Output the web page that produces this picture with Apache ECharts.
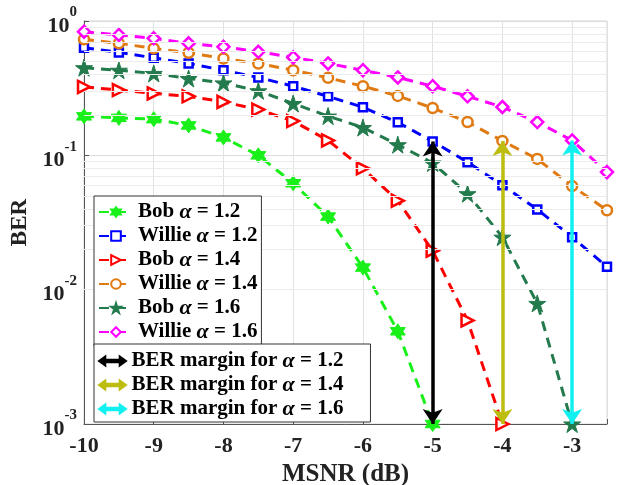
<!DOCTYPE html>
<html>
<head>
<meta charset="utf-8">
<script src="https://cdn.jsdelivr.net/npm/echarts@6/dist/echarts.min.js"></script>
<style>
  html, body { margin: 0; padding: 0; background: #fff; }
  #main { width: 618px; height: 485px; }
</style>
</head>
<body>
<div id="main"></div>
<script>
var chart = echarts.init(document.getElementById('main'));

// MSNR (dB) sample points
var msnr = [-10, -9.5, -9, -8.5, -8, -7.5, -7, -6.5, -6, -5.5, -5, -4.5, -4, -3.5, -3, -2.5];

var bob12    = [0.195, 0.19, 0.186, 0.167, 0.136, 0.1, 0.062, 0.035, 0.0146, 0.0049, 0.001];
var willie12 = [0.632, 0.584, 0.532, 0.483, 0.43, 0.38, 0.327, 0.275, 0.228, 0.176, 0.127, 0.089, 0.06, 0.0396, 0.0246, 0.0148];
var bob14    = [0.323, 0.306, 0.289, 0.275, 0.25, 0.219, 0.18, 0.129, 0.08, 0.046, 0.0195, 0.0059, 0.001];
var willie14 = [0.73, 0.682, 0.625, 0.58, 0.526, 0.483, 0.43, 0.378, 0.327, 0.277, 0.225, 0.177, 0.128, 0.094, 0.059, 0.039];
var bob16    = [0.449, 0.43, 0.407, 0.373, 0.346, 0.302, 0.243, 0.196, 0.161, 0.12, 0.0877, 0.0518, 0.0246, 0.0079, 0.001];
var willie16 = [0.832, 0.787, 0.743, 0.682, 0.643, 0.59, 0.536, 0.483, 0.43, 0.38, 0.327, 0.275, 0.229, 0.177, 0.129, 0.075];

// BER margin arrows: x position and top taken from the Willie curve
var marginX = [-5, -4, -3];
var marginTop = [willie12[10], willie14[12], willie16[14]];
var berFloor = 0.001;

// minor grid lines of the log axis
var minorGrid = [];
[0.001, 0.01, 0.1].forEach(function (d) {
  for (var k = 2; k <= 9; k++) minorGrid.push(+(k * d).toPrecision(3));
});

var FONT = 'Liberation Serif';
var hexagram = 'path://M10 0 L12.89 5 L18.66 5 L15.77 10 L18.66 15 L12.89 15 L10 20 L7.11 15 L1.34 15 L4.23 10 L1.34 5 L7.11 5 Z';
var pentagram = 'path://M10 0 L12.25 6.91 L19.51 6.91 L13.63 11.18 L15.88 18.09 L10 13.82 L4.12 18.09 L6.37 11.18 L0.49 6.91 L7.75 6.91 Z';
var triRight = 'path://M0 0 L20 10 L0 20 Z';
var dblArrow = 'path://M0 5 L7 0 L7 3.5 L23 3.5 L23 0 L30 5 L23 10 L23 6.5 L7 6.5 L7 10 Z';

function pairs(ys) {
  return ys.map(function (y, i) { return [msnr[i], y]; });
}

function curve(name, ys, color, symbol, size, hollow) {
  return {
    name: name,
    type: 'line',
    data: pairs(ys),
    symbol: symbol,
    symbolSize: size,
    showAllSymbol: true,
    z: 3,
    lineStyle: { color: color, width: 3, type: [10, 7] },
    itemStyle: hollow ? { color: '#fff', borderColor: color, borderWidth: 2.5 } : { color: color, borderColor: color, borderWidth: 1 }
  };
}

function margin(name, idx, color) {
  return {
    name: name,
    type: 'lines',
    coordinateSystem: 'cartesian2d',
    z: 5,
    symbol: ['arrow', 'arrow'],
    symbolSize: 15,
    lineStyle: { color: color, width: 3.5, opacity: 1 },
    itemStyle: { color: color },
    data: [{ coords: [[marginX[idx], berFloor], [marginX[idx], marginTop[idx]]] }]
  };
}

var legendText = {
  fontFamily: FONT, fontWeight: 'bold', fontSize: 21, color: '#000', lineHeight: 20,
  rich: { i: { fontFamily: FONT, fontStyle: 'italic', fontWeight: 'bold', fontSize: 22, lineHeight: 20, color: '#000' } }
};
function legendFmt(name) { return name.replace('α', '{i|α}'); }

var option = {
  animation: false,
  backgroundColor: '#fff',
  grid: {
    left: 84, right: 11, top: 21, bottom: 61,
    outerBoundsMode: 'none', containLabel: false,
    show: true, borderColor: '#d6d6d6', borderWidth: 1
  },
  legend: [{
    orient: 'vertical', left: 94, top: 196, z: 10,
    data: ['Bob α = 1.2', 'Willie α = 1.2', 'Bob α = 1.4', 'Willie α = 1.4', 'Bob α = 1.6', 'Willie α = 1.6'],
    itemWidth: 34, itemHeight: 12, itemGap: 2,
    padding: [5, 4, 3, 4],
    backgroundColor: '#fff', borderColor: '#333', borderWidth: 1, borderRadius: 0,
    textStyle: legendText, formatter: legendFmt
  }, {
    orient: 'vertical', left: 94, top: 344, z: 10,
    data: [
      { name: 'BER margin for α = 1.2', icon: dblArrow },
      { name: 'BER margin for α = 1.4', icon: dblArrow },
      { name: 'BER margin for α = 1.6', icon: dblArrow }
    ],
    itemWidth: 28, itemHeight: 9, itemGap: 2,
    padding: [6, 27, 2, 4],
    backgroundColor: '#fff', borderColor: '#333', borderWidth: 1, borderRadius: 0,
    textStyle: legendText, formatter: legendFmt
  }],
  xAxis: {
    type: 'value', min: -10, max: -2.5, interval: 1,
    name: 'MSNR (dB)', nameLocation: 'middle', nameGap: 37,
    nameTextStyle: { fontFamily: FONT, fontWeight: 'bold', fontSize: 25, color: '#222' },
    axisLine: { show: true, onZero: false, lineStyle: { color: '#555', width: 1 } },
    axisTick: { show: true, inside: true, length: 5, lineStyle: { color: '#555' } },
    axisLabel: {
      fontFamily: FONT, fontWeight: 'bold', fontSize: 22, color: '#222', margin: 11,
      formatter: function (v) { return Number.isInteger(v) ? String(v) : ''; }
    },
    splitLine: { show: true, lineStyle: { color: '#e2e2e2', width: 1 } }
  },
  yAxis: {
    type: 'log', logBase: 10, min: 0.001, max: 1,
    name: 'BER', nameLocation: 'middle', nameGap: 49, nameRotate: 90,
    nameTextStyle: { fontFamily: FONT, fontWeight: 'bold', fontSize: 23, color: '#222' },
    axisLine: { show: true, lineStyle: { color: '#555', width: 1 } },
    axisTick: { show: true, inside: true, length: 5, lineStyle: { color: '#555' } },
    axisLabel: {
      margin: 7,
      formatter: function (v) {
        var e = Math.round(Math.log10(v));
        return '{b|10}{s|' + e + '}';
      },
      rich: {
        b: { fontFamily: FONT, fontWeight: 'bold', fontSize: 22, color: '#222', verticalAlign: 'bottom', lineHeight: 32 },
        s: { fontFamily: FONT, fontWeight: 'bold', fontSize: 15, color: '#222', verticalAlign: 'top', lineHeight: 32 }
      }
    },
    splitLine: { show: true, lineStyle: { color: '#dcdcdc', width: 1 } }
  },
  series: [
    {
      name: 'grid-minor', type: 'line', data: [], silent: true, z: 0,
      markLine: {
        silent: true, symbol: 'none', animation: false,
        label: { show: false },
        lineStyle: { color: '#ececec', width: 1, type: 'solid' },
        data: minorGrid.map(function (v) { return { yAxis: v }; })
      }
    },
    curve('Bob α = 1.2', bob12, '#19f019', hexagram, 15, false),
    curve('Willie α = 1.2', willie12, '#0000ff', 'rect', 8, true),
    curve('Bob α = 1.4', bob14, '#ff0000', triRight, 12, true),
    curve('Willie α = 1.4', willie14, '#e07a12', 'circle', 10, true),
    curve('Bob α = 1.6', bob16, '#237a4c', pentagram, 17, false),
    curve('Willie α = 1.6', willie16, '#ff00ff', 'diamond', 12, true),
    margin('BER margin for α = 1.2', 0, '#000000'),
    margin('BER margin for α = 1.4', 1, '#bdbd10'),
    margin('BER margin for α = 1.6', 2, '#10f0f0')
  ]
};

chart.setOption(option);
</script>
</body>
</html>
